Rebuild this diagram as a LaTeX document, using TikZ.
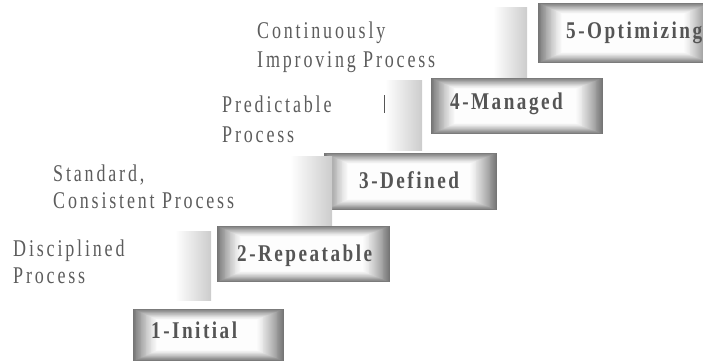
\documentclass[tikz,border=0pt]{standalone}
\usepackage{fontspec}
\usetikzlibrary{calc}

% Fonts: spaced, condensed serif for the notes and the stage labels
\newfontfamily\notefont[FakeStretch=0.75,LetterSpace=11.8]{Liberation Serif}
\newfontfamily\stagefont[FakeStretch=0.8,LetterSpace=10.3]{Liberation Serif}

\definecolor{notegray}{HTML}{5C5C5C}
\definecolor{stagegray}{HTML}{555555}
\definecolor{tickgray}{HTML}{555555}

\tikzset{
  % bevelled button: nested rectangles fading from grey rim to white centre
  stage/.style={anchor=north west, inner sep=0pt, outer sep=0pt, fill=white,
    path picture={
      \foreach \i in {0,...,29}{
        \pgfmathsetmacro\t{\i/30}
        \pgfmathsetmacro\p{54*(1-\t)^1.25}
        \fill[black!\p!white]
          ([shift={(\t*25pt,-\t*11pt)}]path picture bounding box.north west)
          rectangle
          ([shift={(-\t*28pt,\t*11pt)}]path picture bounding box.south east);
      }
    }},
  % riser between two stages
  riser/.style={anchor=north west, inner sep=0pt, outer sep=0pt,
    left color=white, right color=black!20},
  note/.style={anchor=base west, inner sep=0pt, text=notegray,
    font=\notefont\fontsize{24}{28}\selectfont},
  stagelabel/.style={anchor=base west, inner sep=0pt, text=stagegray,
    font=\stagefont\bfseries\fontsize{24}{28}\selectfont},
}

\begin{document}
\begin{tikzpicture}[x=1pt,y=-1pt]
\useasboundingbox (0,0) rectangle (703,362);
\clip (0,0) rectangle (703,362);

% stages
\node[stage, minimum width=151pt, minimum height=52pt] (s1) at (133,309) {};
\node[stage, minimum width=173pt, minimum height=56pt] (s2) at (217,226) {};
\node[stage, minimum width=173pt, minimum height=57pt] (s3) at (324,153) {};
\node[stage, minimum width=172pt, minimum height=56pt] (s4) at (431,78) {};
\node[stage, minimum width=173pt, minimum height=60pt] (s5) at (538,3) {};

% risers
\node[riser, minimum width=36pt, minimum height=69pt] (r12) at (175,231) {};
\node[riser, minimum width=42pt, minimum height=69pt] (r23) at (290,156) {};
\node[riser, minimum width=37pt, minimum height=70pt] (r34) at (385,80) {};
\node[riser, minimum width=34pt, minimum height=70pt] (r45) at (493,7) {};

% small tick beside the third riser
\coordinate (tickA) at (384,95);
\coordinate (tickB) at (384,113);
\draw[tickgray, line width=1pt] (tickA) -- (tickB);

% stage labels
\node[stagelabel] (l1) at (151,338) {1-Initial};
\node[stagelabel] (l2) at (237,261) {2-Repeatable};
\node[stagelabel] (l3) at (359,188) {3-Defined};
\node[stagelabel] (l4) at (450,109) {4-Managed};
\node[stagelabel] (l5) at (566,38) {5-Optimizing};

% process descriptions
\node[note] (n5a) at (257,38) {Continuously};
\node[note] (n5b) at (257,67) {Improving Process};
\node[note] (n4a) at (222,112) {Predictable};
\node[note] (n4b) at (222,142) {Process};
\node[note] (n3a) at (53,181) {Standard,};
\node[note] (n3b) at (53,208) {Consistent Process};
\node[note] (n2a) at (13,256) {Disciplined};
\node[note] (n2b) at (13,283) {Process};
\end{tikzpicture}
\end{document}
